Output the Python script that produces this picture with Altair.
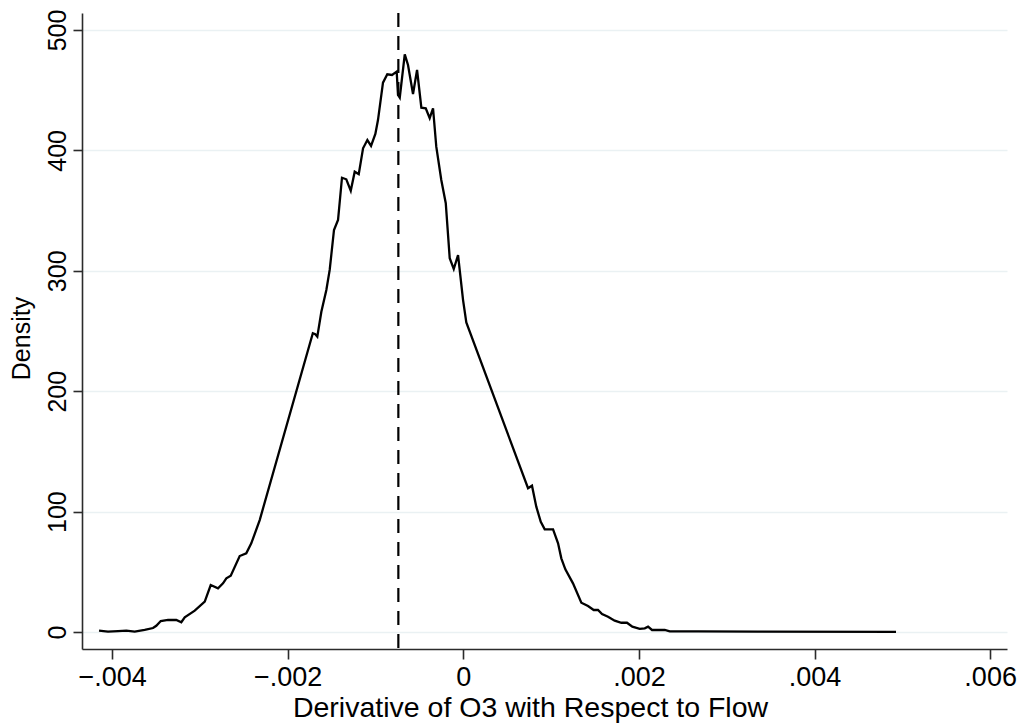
import altair as alt
import pandas as pd

# Kernel density of the derivative (x in units of 1e-3)
x_milli = [
    -4.149, -4.047, -3.933, -3.838, -3.743, -3.629, -3.534, -3.497, -3.446, -3.363,
    -3.269, -3.212, -3.173, -3.059, -2.945, -2.877, -2.794, -2.737, -2.699, -2.649,
    -2.547, -2.472, -2.415, -2.319, -1.714, -1.686, -1.663, -1.617, -1.560, -1.522,
    -1.473, -1.427, -1.382, -1.333, -1.282, -1.237, -1.191, -1.142, -1.093, -1.051,
    -1.002, -0.972, -0.915, -0.866, -0.812, -0.759, -0.744, -0.724, -0.667, -0.630,
    -0.573, -0.527, -0.478, -0.428, -0.383, -0.345, -0.308, -0.251, -0.200, -0.155,
    -0.109, -0.060, -0.003, 0.034, 0.737, 0.782, 0.831, 0.882, 0.927, 1.022,
    1.079, 1.116, 1.162, 1.249, 1.344, 1.420, 1.485, 1.534, 1.580, 1.648,
    1.724, 1.800, 1.864, 1.925, 2.009, 2.066, 2.104, 2.149, 2.294, 2.351,
    2.673, 3.356, 4.928,
]
density = [
    1.1, 0.3, 0.8, 1.1, 0.3, 1.7, 3.3, 5.2, 9.1, 10.0,
    10.0, 8.1, 12.2, 17.7, 25.2, 39.0, 36.3, 40.4, 44.6, 46.8,
    63.1, 65.4, 73.7, 93.0, 248.1, 247.3, 245.3, 266.0, 284.1, 300.7,
    333.9, 342.2, 377.3, 376.0, 366.5, 382.3, 380.2, 401.7, 408.6, 403.7,
    413.6, 425.2, 456.2, 463.2, 462.6, 465.4, 446.0, 443.8, 479.8, 470.9,
    446.8, 466.8, 435.5, 435.0, 426.7, 435.0, 403.1, 375.4, 356.1, 310.4,
    301.5, 313.1, 275.7, 257.1, 119.4, 121.5, 104.1, 91.6, 85.3, 85.3,
    73.7, 61.2, 52.1, 40.4, 24.3, 21.6, 18.3, 18.3, 15.0, 12.7,
    9.4, 7.7, 7.7, 4.4, 2.7, 3.1, 4.4, 1.7, 1.7, 0.6,
    0.6, 0.3, 0.1,
]
mean_value = -0.00074
x_ticks = [-0.004, -0.002, 0.0, 0.002, 0.004, 0.006]
y_ticks = [0, 100, 200, 300, 400, 500]

df = pd.DataFrame({"x": [v * 1e-3 for v in x_milli], "y": density})
FONT = "Liberation Sans"
AXIS_COLOR = "#2b2b2b"

x_scale = alt.Scale(domain=[-0.004343, 0.006192], nice=False, zero=False)
y_scale = alt.Scale(domain=[-14.1, 514.1], nice=False, zero=False)

label_expr = ("datum.value == 0 ? '0' : (datum.value < 0 ? '\u2212' : '') + "
              "substring(format(abs(datum.value), '.3f'), 1)")

line = alt.Chart(df).mark_line(color="black", strokeWidth=2.3, clip=True).encode(
    x=alt.X("x:Q", scale=x_scale,
            axis=alt.Axis(values=x_ticks, labelExpr=label_expr,
                          title="Derivative of O3 with Respect to Flow",
                          grid=False, tickSize=10, labelPadding=5,
                          labelFontSize=27, titleFontSize=28.5,
                          titleX=448, titleY=67, titleBaseline="alphabetic")),
    y=alt.Y("y:Q", scale=y_scale,
            axis=alt.Axis(values=y_ticks, title="Density", grid=True,
                          gridColor="#eaf1f3", gridWidth=1.5,
                          tickSize=9, labelAngle=270, labelAlign="center",
                          labelBaseline="alphabetic", labelPadding=8,
                          labelFontSize=25, titleFontSize=25,
                          titleAngle=270, titleX=-53, titleY=325,
                          titleBaseline="alphabetic", titleAlign="center")),
)

rule = alt.Chart(pd.DataFrame({"m": [mean_value]})).mark_rule(
    color="black", strokeWidth=2.2, strokeDash=[14, 9]
).encode(x=alt.X("m:Q", scale=x_scale))

chart = (rule + line).properties(
    width=925, height=636,
    padding={"left": 74, "top": 5, "right": 10, "bottom": 77},
    autosize=alt.AutoSizeParams(type="none"),
    background="white",
).configure_view(strokeWidth=0).configure_axis(
    labelFont=FONT, titleFont=FONT,
    labelColor="black", titleColor="black", titleFontWeight="normal",
    domainColor=AXIS_COLOR, tickColor=AXIS_COLOR, domainWidth=1.6, tickWidth=1.6,
    labelFlush=False, labelOverlap=False,
)

chart.save("out.html", embed_options={"renderer": "svg", "actions": False})
